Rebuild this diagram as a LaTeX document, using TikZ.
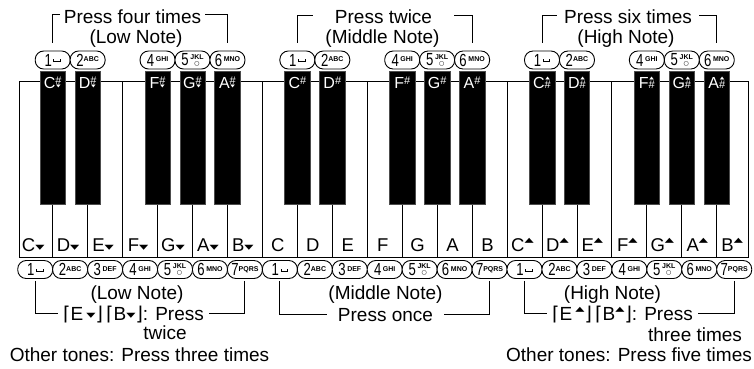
\documentclass[tikz,border=0pt]{standalone}
\usepackage{fontspec}
\usepackage{graphicx}
\setmainfont{Liberation Sans}
\newfontfamily\symfont{DejaVu Sans}
\usetikzlibrary{positioning}

% font sizes
\newcommand\lblfont{\fontsize{19}{22}\selectfont}
\newcommand\notefont{\fontsize{18.5}{20}\selectfont}
\newcommand\blkfont{\fontsize{16}{18}\selectfont}
\newcommand\ltrfont{\fontsize{7}{7}\selectfont\bfseries}
\newcommand\hashfont{\fontsize{11}{11}\selectfont}

% triangles after the note names
\newcommand\tdn[1][1.5pt]{\raisebox{#1}{\scalebox{1}[0.55]{\symfont\fontsize{12}{12}\selectfont ▼}}}
\newcommand\tup[1][8.2pt]{\raisebox{#1}{\scalebox{1}[0.55]{\symfont\fontsize{12}{12}\selectfont ▲}}}
\newcommand\smtri[1]{\scalebox{1}[0.65]{\symfont\fontsize{6}{6}\selectfont #1}}
\newcommand\shdn{\ooalign{\raisebox{3.6pt}{\hashfont\#}\cr\hidewidth\raisebox{0.2pt}{\smtri{▼}}\hidewidth\cr}}
\newcommand\shmid{\raisebox{3.6pt}{\hashfont\#}}
\newcommand\shup{\ooalign{\raisebox{0pt}{\hashfont\#}\cr\hidewidth\raisebox{8.4pt}{\smtri{▲}}\hidewidth\cr}}
\newcommand\sharpmark[1]{\ifcase#1\shdn\or\shmid\or\shup\fi}
\newcommand\natmark[1]{\ifcase#1\tdn\or\or\tup\fi}
\newcommand\crn[1]{{\symfont #1}}

% phone keys
\newcommand\dig[1]{\scalebox{0.75}[1]{\fontsize{17.5}{17.5}\selectfont #1}}
\newcommand\keyltr[1]{\raisebox{4.5pt}{\ltrfont #1}}
\newcommand\spc{\raisebox{4pt}{\rule{0.7pt}{3pt}\rule{6pt}{0.7pt}\rule{0.7pt}{3pt}}}
\newcommand\kone{\dig{1}\,\spc}
\newcommand\ktwo{\dig{2}\keyltr{ABC}}
\newcommand\kthree{\dig{3}\,\keyltr{DEF}}
\newcommand\kfour{\dig{4}\,\keyltr{GHI}}
\newcommand\kfive{\dig{5}\,\ooalign{\raisebox{6.5pt}{\ltrfont JKL}\cr\hidewidth\raisebox{0.6pt}{\symfont\fontsize{6}{6}\selectfont ○}\hidewidth\cr}}
\newcommand\ksix{\dig{6}\,\keyltr{MNO}}
\newcommand\kseven{\dig{7}\keyltr{PQRS}}

\begin{document}
\begin{tikzpicture}[
  x=1pt, y=-1pt,
  keyline/.style={line width=0.9pt},
  blackkey/.style={fill=black, draw=black!70, line width=0.5pt, anchor=north,
                   minimum width=25.5pt, minimum height=133pt, inner sep=0pt},
  blklbl/.style={text=white, anchor=base, inner sep=0pt, font=\blkfont},
  keylbl/.style={anchor=base, inner sep=0pt, font=\notefont},
  phonekey/.style={draw, fill=white, line width=0.9pt, rounded corners=8.5pt,
                   minimum width=35pt, minimum height=18pt, inner sep=0pt},
  lbl/.style={anchor=base, inner ysep=0pt, inner xsep=#1, font=\lblfont},
  lbl/.default=2pt,
  bracket/.style={line width=0.9pt}
]
  \useasboundingbox (0,0) rectangle (754,368);

  % white keys
  \draw[keyline] (19,81.5) rectangle (748,257);
  \foreach \k in {1,...,20} {
    \pgfmathsetmacro\bx{17.75+34.95*\k}
    \draw[keyline] (\bx,81.5) -- (\bx,257);
  }

  % black keys and the phone keys above them
  \foreach \o in {0,1,2} {
    \foreach \j/\nm/\txt in {1/C/\kone,2/D/\ktwo,4/F/\kfour,5/G/\kfive,6/A/\ksix} {
      \pgfmathtruncatemacro\k{7*\o+\j}
      \pgfmathsetmacro\bx{17.75+34.95*\k}
      \node[blackkey] (bk\k) at (\bx,71) {};
      \node[blklbl] (bl\k) at (\bx,88) {\nm\sharpmark{\o}};
      \node[phonekey] (kt\k) at (\bx,60) {\txt};
    }
  }

  % note names and the phone keys below
  \foreach \o in {0,1,2} {
    \foreach \j/\nm/\txt in {0/C/\kone,1/D/\ktwo,2/E/\kthree,3/F/\kfour,4/G/\kfive,5/A/\ksix,6/B/\kseven} {
      \pgfmathtruncatemacro\i{7*\o+\j}
      \pgfmathsetmacro\cx{35.225+34.95*\i}
      \node[keylbl] (wl\i) at (\cx-2,251) {\nm\natmark{\o}};
      \node[phonekey] (kb\i) at (\cx,269.5) {\txt};
    }
  }

  % top labels
  \node[lbl=4pt] (pfour) at (132.5,23) {Press four times};
  \node[lbl] (lowtop) at (136,43) {(Low Note)};
  \node[lbl=22pt] (ptwice) at (383.5,23) {Press twice};
  \node[lbl] (midtop) at (382.5,43) {(Middle Note)};
  \node[lbl=7pt] (psix) at (628,23) {Press six times};
  \node[lbl] (hightop) at (626,43) {(High Note)};

  \draw[bracket] ([yshift=8pt]kt1.north) |- ([yshift=9pt]pfour.base west);
  \draw[bracket] ([yshift=8pt]kt6.north) |- ([yshift=9pt]pfour.base east);
  \draw[bracket] ([yshift=8pt]kt8.north) |- ([yshift=8pt]ptwice.base west);
  \draw[bracket] ([yshift=8pt]kt13.north) |- ([yshift=8pt]ptwice.base east);
  \draw[bracket] ([yshift=8pt]kt15.north) |- ([yshift=8pt]psix.base west);
  \draw[bracket] ([yshift=8pt]kt20.north) |- ([yshift=8pt]psix.base east);

  % bottom labels
  \node[lbl] (lownote) at (137,299) {(Low Note)};
  \node[lbl=5pt] (lowpress) at (133.5,320)
    {\crn{⌈}E\,\tdn[3pt]\crn{⌋}\,\crn{⌈}B\tdn[3pt]\crn{⌋}: Press};
  \node[lbl] (lowtwice) at (165,339) {twice};
  \node[lbl] (lowother) at (139.5,361) {Other tones: Press three times};

  \node[lbl] (midnote) at (385.5,299) {(Middle Note)};
  \node[lbl=10.5pt] (midpress) at (385.5,321) {Press once};

  \node[lbl] (highnote) at (612.5,299) {(High Note)};
  \node[lbl=5pt] (highpress) at (622.5,320)
    {\crn{⌈}E\,\tup[8.6pt]\crn{⌋}\,\crn{⌈}B\tup[8.6pt]\crn{⌋}: Press};
  \node[lbl] (highthree) at (695,341) {three times};
  \node[lbl] (highother) at (629,361) {Other tones: Press five times};

  \draw[bracket] ([yshift=-2pt]kb0.south) |- ([yshift=7pt]lowpress.base west);
  \draw[bracket] ([yshift=-2pt]kb6.south) |- ([yshift=7pt]lowpress.base east);
  \draw[bracket] ([yshift=-2pt]kb7.south) |- ([yshift=7pt]midpress.base west);
  \draw[bracket] ([yshift=-2pt]kb13.south) |- ([yshift=7pt]midpress.base east);
  \draw[bracket] ([yshift=-2pt]kb14.south) |- ([yshift=7pt]highpress.base west);
  \draw[bracket] ([yshift=-2pt]kb20.south) |- ([yshift=7pt]highpress.base east);
\end{tikzpicture}
\end{document}
